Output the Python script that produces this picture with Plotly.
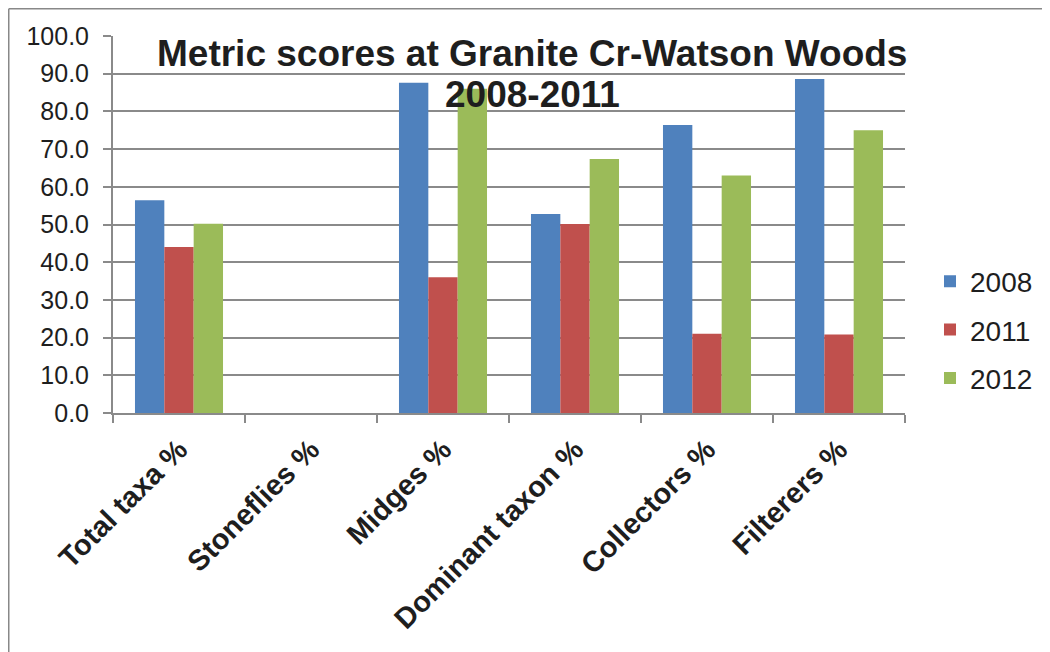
import plotly.graph_objects as go

categories = ["Total taxa %", "Stoneflies %", "Midges %", "Dominant taxon %", "Collectors %", "Filterers %"]
series_names = ["2008", "2011", "2012"]
values_2008 = [56.4, 0, 87.6, 52.8, 76.4, 88.6]
values_2011 = [44.0, 0, 36.0, 50.1, 21.0, 20.8]
values_2012 = [50.2, 0, 86.0, 67.4, 63.0, 75.0]
colors = ["#4F81BD", "#C0504D", "#9BBB59"]
title_lines = ["Metric scores at Granite Cr-Watson Woods", "2008-2011"]

FONT = "Liberation Sans, Arial, sans-serif"
GRID = "#8a8a8a"
TXT = "#1e1e1e"

fig = go.Figure()
for i, (name, vals) in enumerate(zip(series_names, [values_2008, values_2011, values_2012])):
    fig.add_trace(go.Bar(
        x=categories, y=vals, name=name, legendgroup=name,
        marker=dict(color=colors[i], line=dict(width=0)),
    ))

# figure coordinates (page has an 8px body margin)
W, H = 1050, 652
L, R, T, B = 105, 897, 28, 405


def px(x):
    return (x - L) / (R - L)


def py(y):
    return (B - y) / (B - T)


fig.update_layout(
    width=W, height=H,
    margin=dict(l=L, r=W - R, t=T, b=H - B, autoexpand=False),
    paper_bgcolor="white", plot_bgcolor="white",
    barmode="group", bargap=0.333, bargroupgap=0,
    font=dict(family=FONT, color=TXT),
    showlegend=True,
    legend=dict(
        x=px(922), xanchor="left", y=py(322), yanchor="middle",
        font=dict(size=28, family=FONT, color=TXT),
        traceorder="grouped", tracegroupgap=9,
        bgcolor="rgba(0,0,0,0)",
    ),
    annotations=[
        dict(text="<b>" + title_lines[0] + "</b>", xref="paper", yref="paper",
             x=px(524), y=py(45), xanchor="center", yanchor="middle", showarrow=False,
             font=dict(size=37, family=FONT, color=TXT)),
        dict(text="<b>" + title_lines[1] + "</b>", xref="paper", yref="paper",
             x=px(524), y=py(87), xanchor="center", yanchor="middle", showarrow=False,
             font=dict(size=37, family=FONT, color=TXT)),
    ],
    shapes=[
        dict(type="line", xref="paper", yref="paper",
             x0=px(0.75), x1=px(0.75), y0=py(0.75), y1=py(700),
             line=dict(color="#888888", width=1.5)),
        dict(type="line", xref="paper", yref="paper",
             x0=px(0.75), x1=px(1100), y0=py(0.75), y1=py(0.75),
             line=dict(color="#888888", width=1.5)),
    ],
)

fig.update_xaxes(
    type="category",
    showline=True, linecolor=GRID, linewidth=2,
    ticks="outside", tickson="boundaries", ticklen=8, tickcolor=GRID, tickwidth=2,
    tickangle=-45, ticklabelstandoff=6,
    tickfont=dict(size=29, family=FONT, color=TXT, weight="bold"),
    showgrid=False,
)
fig.update_yaxes(
    range=[0, 100], dtick=10, tickformat=".1f",
    showline=True, linecolor=GRID, linewidth=2,
    ticks="outside", ticklen=8, tickcolor=GRID, tickwidth=2,
    ticklabelstandoff=9,
    tickfont=dict(size=25, family=FONT, color=TXT),
    showgrid=True, gridcolor=GRID, gridwidth=2,
    zeroline=False,
)

fig.write_html("out.html")
